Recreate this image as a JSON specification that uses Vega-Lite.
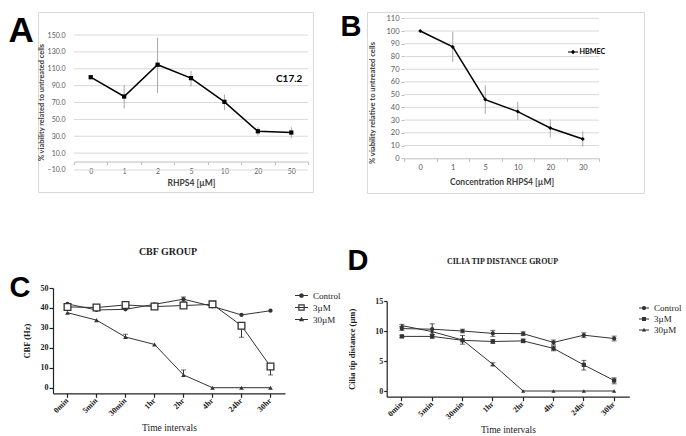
{
"$schema": "https://vega.github.io/schema/vega-lite/v6.json",
"background": "white",
"padding": {"left": 7, "top": 11, "right": 0, "bottom": 0},
"config": {"view": {"stroke": null}, "axis": {"grid": false, "labelOverlap": false}},
"columns": 2,
"spacing": {"row": 95, "column": 54},
"bounds": "flush",
"resolve": {"scale": {"color": "independent", "shape": "independent"}, "legend": {"color": "independent", "shape": "independent"}},
"datasets": {
"A": [
{"conc": "0", "v": 100, "lo": 100, "hi": 100, "series": "C17.2"},
{"conc": "1", "v": 77.1, "lo": 62.9, "hi": 90.6, "series": "C17.2"},
{"conc": "2", "v": 114.8, "lo": 81.1, "hi": 146.8, "series": "C17.2"},
{"conc": "5", "v": 98.9, "lo": 89.0, "hi": 107.6, "series": "C17.2"},
{"conc": "10", "v": 70.8, "lo": 60.9, "hi": 79.5, "series": "C17.2"},
{"conc": "20", "v": 35.9, "lo": 30.8, "hi": 40.7, "series": "C17.2"},
{"conc": "50", "v": 34.4, "lo": 27.6, "hi": 40.7, "series": "C17.2"}
],
"Agrid": [{"g": -10}, {"g": 10}, {"g": 30}, {"g": 50}, {"g": 70}, {"g": 90}, {"g": 110}, {"g": 130}, {"g": 150}],
"B": [
{"conc": "0", "v": 100, "lo": 100, "hi": 100, "series": "HBMEC"},
{"conc": "1", "v": 87.5, "lo": 75.7, "hi": 99.5, "series": "HBMEC"},
{"conc": "5", "v": 46.1, "lo": 35.1, "hi": 57.4, "series": "HBMEC"},
{"conc": "10", "v": 36.7, "lo": 29.9, "hi": 44.3, "series": "HBMEC"},
{"conc": "20", "v": 23.8, "lo": 16.5, "hi": 30.6, "series": "HBMEC"},
{"conc": "30", "v": 15.2, "lo": 9.2, "hi": 21.2, "series": "HBMEC"}
],
"Bgrid": [{"g": 10}, {"g": 20}, {"g": 30}, {"g": 40}, {"g": 50}, {"g": 60}, {"g": 70}, {"g": 80}, {"g": 90}, {"g": 100}, {"g": 110}],
"C": [
{"t": "0min", "s": "Control", "v": 42.0, "lo": 42.0, "hi": 42.0},
{"t": "5min", "s": "Control", "v": 39.0, "lo": 39.0, "hi": 39.0},
{"t": "30min", "s": "Control", "v": 39.3, "lo": 39.3, "hi": 39.3},
{"t": "1hr", "s": "Control", "v": 41.8, "lo": 41.8, "hi": 41.8},
{"t": "2hr", "s": "Control", "v": 44.4, "lo": 43.3, "hi": 45.5},
{"t": "4hr", "s": "Control", "v": 40.8, "lo": 40.8, "hi": 40.8},
{"t": "24hr", "s": "Control", "v": 36.5, "lo": 36.5, "hi": 36.5},
{"t": "30hr", "s": "Control", "v": 38.6, "lo": 38.6, "hi": 38.6},
{"t": "0min", "s": "3µM", "v": 40.5, "lo": 40.5, "hi": 40.5},
{"t": "5min", "s": "3µM", "v": 40.2, "lo": 40.2, "hi": 40.2},
{"t": "30min", "s": "3µM", "v": 41.5, "lo": 41.5, "hi": 41.5},
{"t": "1hr", "s": "3µM", "v": 40.7, "lo": 40.7, "hi": 40.7},
{"t": "2hr", "s": "3µM", "v": 41.2, "lo": 41.2, "hi": 41.2},
{"t": "4hr", "s": "3µM", "v": 41.8, "lo": 41.8, "hi": 41.8},
{"t": "24hr", "s": "3µM", "v": 31.1, "lo": 25.3, "hi": 31.1},
{"t": "30hr", "s": "3µM", "v": 10.6, "lo": 6.4, "hi": 10.6},
{"t": "0min", "s": "30µM", "v": 37.6, "lo": 37.6, "hi": 37.6},
{"t": "5min", "s": "30µM", "v": 33.9, "lo": 33.9, "hi": 33.9},
{"t": "30min", "s": "30µM", "v": 25.4, "lo": 25.4, "hi": 26.8},
{"t": "1hr", "s": "30µM", "v": 21.7, "lo": 21.7, "hi": 21.7},
{"t": "2hr", "s": "30µM", "v": 6.4, "lo": 6.4, "hi": 8.9},
{"t": "4hr", "s": "30µM", "v": 0, "lo": 0, "hi": 0},
{"t": "24hr", "s": "30µM", "v": 0, "lo": 0, "hi": 0},
{"t": "30hr", "s": "30µM", "v": 0, "lo": 0, "hi": 0}
],
"D": [
{"t": "0min", "s": "Control", "v": 10.4, "lo": 10.1, "hi": 10.7},
{"t": "5min", "s": "Control", "v": 10.3, "lo": 9.4, "hi": 11.2},
{"t": "30min", "s": "Control", "v": 10.0, "lo": 9.7, "hi": 10.3},
{"t": "1hr", "s": "Control", "v": 9.6, "lo": 9.1, "hi": 10.1},
{"t": "2hr", "s": "Control", "v": 9.55, "lo": 9.25, "hi": 9.85},
{"t": "4hr", "s": "Control", "v": 8.1, "lo": 7.7, "hi": 8.5},
{"t": "24hr", "s": "Control", "v": 9.3, "lo": 8.9, "hi": 9.7},
{"t": "30hr", "s": "Control", "v": 8.75, "lo": 8.35, "hi": 9.15},
{"t": "0min", "s": "3µM", "v": 9.1, "lo": 8.9, "hi": 9.3},
{"t": "5min", "s": "3µM", "v": 9.1, "lo": 8.8, "hi": 9.4},
{"t": "30min", "s": "3µM", "v": 8.45, "lo": 7.8, "hi": 9.25},
{"t": "1hr", "s": "3µM", "v": 8.25, "lo": 7.95, "hi": 8.55},
{"t": "2hr", "s": "3µM", "v": 8.35, "lo": 8.05, "hi": 8.65},
{"t": "4hr", "s": "3µM", "v": 7.1, "lo": 6.7, "hi": 7.5},
{"t": "24hr", "s": "3µM", "v": 4.35, "lo": 3.5, "hi": 5.1},
{"t": "30hr", "s": "3µM", "v": 1.75, "lo": 1.2, "hi": 2.2},
{"t": "0min", "s": "30µM", "v": 10.9, "lo": 10.7, "hi": 11.1},
{"t": "5min", "s": "30µM", "v": 9.9, "lo": 9.9, "hi": 9.9},
{"t": "30min", "s": "30µM", "v": 8.5, "lo": 8.5, "hi": 8.5},
{"t": "1hr", "s": "30µM", "v": 4.45, "lo": 4.2, "hi": 4.7},
{"t": "2hr", "s": "30µM", "v": 0, "lo": 0, "hi": 0},
{"t": "4hr", "s": "30µM", "v": 0, "lo": 0, "hi": 0},
{"t": "24hr", "s": "30µM", "v": 0, "lo": 0, "hi": 0},
{"t": "30hr", "s": "30µM", "v": 0, "lo": 0, "hi": 0}
]
},
"concat": [
{
"width": 275, "height": 180,
"view": {"stroke": "#d9d9d9"},
"layer": [
{
"layer": [
{
"data": {"name": "Agrid"},
"mark": {"type": "rule", "color": "#d9d9d9", "strokeWidth": 1},
"encoding": {
"x": {"datum": "0", "type": "ordinal", "bandPosition": 0,
"scale": {"type": "band", "domain": ["0", "1", "2", "5", "10", "20", "50"], "range": [36, 270], "paddingInner": 0, "paddingOuter": 0},
"axis": {"title": "RHPS4 [µM]", "orient": "bottom", "offset": -30.5, "labelOverlap": false, "domainColor": "#bfbfbf", "domainWidth": 1, "ticks": true, "tickBand": "extent", "tickSize": 3, "tickColor": "#bfbfbf", "labelAngle": 0, "labelFont": "Lato", "labelFontSize": 7, "labelColor": "#595959", "labelPadding": 2.5, "titleFont": "Lato", "titleFontSize": 8.5, "titleFontWeight": "bold", "titleColor": "#404040", "titlePadding": 4.5}},
"x2": {"datum": "50", "bandPosition": 1},
"y": {"field": "g", "type": "quantitative",
"scale": {"domain": [-36.1, 177.3], "nice": false, "zero": false},
"axis": {"title": "% viability related to untreated cells", "values": [-10, 10, 30, 50, 70, 90, 110, 130, 150], "tickCount": 30, "format": ".1f", "labelOverlap": false, "domain": false, "ticks": false, "grid": false, "offset": -29, "labelPadding": 2, "labelFont": "Lato", "labelFontSize": 7, "labelColor": "#595959", "titleFont": "Lato", "titleFontSize": 7.4, "titleFontWeight": "bold", "titleColor": "#404040", "titlePadding": 2}}
}
},
{
"data": {"name": "A"},
"mark": {"type": "rule", "color": "#a6a6a6", "strokeWidth": 1},
"encoding": {"x": {"field": "conc", "type": "ordinal"}, "y": {"field": "lo", "type": "quantitative"}, "y2": {"field": "hi"}}
},
{
"data": {"name": "A"},
"mark": {"type": "line", "color": "#000000", "strokeWidth": 1.5},
"encoding": {"x": {"field": "conc", "type": "ordinal"}, "y": {"field": "v", "type": "quantitative"}, "order": {"value": null}}
},
{
"data": {"name": "A"},
"mark": {"type": "point", "shape": "square", "filled": true, "size": 18, "opacity": 1},
"encoding": {"x": {"field": "conc", "type": "ordinal"}, "y": {"field": "v", "type": "quantitative"},
"color": {"field": "series", "type": "nominal", "scale": {"range": ["#000000"]},
"legend": {"title": null, "orient": "none", "legendX": 228, "legendY": 62, "symbolSize": 0, "symbolOpacity": 0, "symbolStrokeWidth": 0, "labelFont": "Lato", "labelFontSize": 10, "labelFontWeight": "bold", "labelColor": "#000000", "labelOffset": 0}}}
}
]
},
{
"data": {"name": "A"},
"mark": {"type": "point", "size": 0, "opacity": 0},
"encoding": {
"x": {"field": "conc", "type": "ordinal",
"axis": {"orient": "top", "labels": false, "ticks": false, "domain": false, "grid": false, "title": "A", "titleFont": "Liberation Sans", "titleFontSize": 35, "titleFontWeight": "bold", "titleColor": "#000000", "titleAngle": 0, "titleAlign": "left", "titleBaseline": "alphabetic", "titleX": -30, "titleY": 29}}
}
}
],
"resolve": {"axis": {"x": "independent"}}
},
{
"width": 277, "height": 181,
"view": {"stroke": "#d9d9d9"},
"layer": [
{
"layer": [
{
"data": {"name": "Bgrid"},
"mark": {"type": "rule", "color": "#d9d9d9", "strokeWidth": 1},
"encoding": {
"x": {"datum": "0", "type": "ordinal", "bandPosition": 0,
"scale": {"type": "band", "domain": ["0", "1", "5", "10", "20", "30"], "range": [37, 232], "paddingInner": 0, "paddingOuter": 0},
"axis": {"title": "Concentration RHPS4 [µM]", "orient": "bottom", "offset": -34.7, "labelOverlap": false, "domainColor": "#bfbfbf", "domainWidth": 1, "ticks": true, "tickBand": "extent", "tickSize": 3, "tickColor": "#bfbfbf", "labelAngle": 0, "labelFont": "Lato", "labelFontSize": 7.5, "labelColor": "#595959", "labelPadding": 2.5, "titleFont": "Lato", "titleFontSize": 8.5, "titleFontWeight": "bold", "titleColor": "#404040", "titlePadding": 6.5}},
"x2": {"datum": "30", "bandPosition": 1},
"y": {"field": "g", "type": "quantitative",
"scale": {"domain": [-27.3, 114.95], "nice": false, "zero": false},
"axis": {"title": "% viability relative to untreated cells", "values": [0, 10, 20, 30, 40, 50, 60, 70, 80, 90, 100, 110], "tickCount": 30, "format": "d", "labelOverlap": false, "domain": false, "ticks": true, "tickSize": 3, "tickColor": "#bfbfbf", "grid": false, "offset": -37, "labelPadding": 2, "labelFont": "Lato", "labelFontSize": 7.5, "labelColor": "#595959", "titleFont": "Lato", "titleFontSize": 7.6, "titleFontWeight": "bold", "titleColor": "#404040", "titlePadding": 9}}
}
},
{
"data": {"name": "B"},
"mark": {"type": "rule", "color": "#a6a6a6", "strokeWidth": 1},
"encoding": {"x": {"field": "conc", "type": "ordinal"}, "y": {"field": "lo", "type": "quantitative"}, "y2": {"field": "hi"}}
},
{
"data": {"name": "B"},
"mark": {"type": "line", "color": "#000000", "strokeWidth": 1.5},
"encoding": {"x": {"field": "conc", "type": "ordinal"}, "y": {"field": "v", "type": "quantitative"}, "order": {"value": null}}
},
{
"data": {"name": "B"},
"mark": {"type": "point", "shape": "diamond", "filled": true, "size": 16, "opacity": 1},
"encoding": {"x": {"field": "conc", "type": "ordinal"}, "y": {"field": "v", "type": "quantitative"},
"color": {"field": "series", "type": "nominal", "scale": {"range": ["#000000"]},
"legend": {"title": null, "orient": "none", "legendX": 201, "legendY": 35, "symbolType": "M-1,-0.1H1V0.1H-1Z M0,-0.45L0.45,0L0,0.45L-0.45,0Z", "symbolSize": 100, "symbolStrokeWidth": 0, "symbolFillColor": "#000000", "labelFont": "Lato", "labelFontSize": 7.2, "labelFontWeight": "bold", "labelColor": "#000000", "labelOffset": 1.5}}}
}
]
},
{
"data": {"name": "B"},
"mark": {"type": "point", "size": 0, "opacity": 0},
"encoding": {
"x": {"field": "conc", "type": "ordinal",
"axis": {"orient": "top", "labels": false, "ticks": false, "domain": false, "grid": false, "title": "B", "titleFont": "Liberation Sans", "titleFontSize": 29, "titleFontWeight": "bold", "titleColor": "#000000", "titleAngle": 0, "titleAlign": "left", "titleBaseline": "alphabetic", "titleX": -27, "titleY": 23}}
}
}
],
"resolve": {"axis": {"x": "independent"}}
},
{
"width": 275, "height": 105.3,
"title": {"text": "CBF GROUP", "orient": "top", "anchor": "middle", "frame": "group", "offset": 16.5, "dx": -7.5, "font": "Liberation Serif", "fontSize": 10, "fontWeight": "bold", "color": "#222222"},
"layer": [
{
"layer": [
{
"data": {"name": "C"},
"transform": [{"filter": "datum.hi > datum.lo"}],
"mark": {"type": "rule", "color": "#333333", "strokeWidth": 1},
"encoding": {
"x": {"field": "t", "type": "ordinal",
"scale": {"type": "band", "domain": ["0min", "5min", "30min", "1hr", "2hr", "4hr", "24hr", "30hr"], "range": [15, 247], "paddingInner": 0, "paddingOuter": 0},
"axis": {"title": "Time intervals", "orient": "bottom", "labelOverlap": false, "domainColor": "#222222", "domainWidth": 1.2, "tickColor": "#222222", "tickSize": 4, "tickWidth": 1.2, "labelAngle": -45, "labelAlign": "right", "labelBaseline": "middle", "labelFont": "Liberation Serif", "labelFontSize": 8, "labelFontWeight": "bold", "labelColor": "#222222", "labelPadding": 2, "titleFont": "Liberation Serif", "titleFontSize": 9.5, "titleFontWeight": "normal", "titleColor": "#222222", "titlePadding": 5.5}},
"y": {"field": "lo", "type": "quantitative",
"scale": {"domain": [-2.8, 50], "nice": false, "zero": false},
"axis": {"title": "CBF (Hz)", "values": [0, 10, 20, 30, 40, 50], "tickCount": 30, "format": "d", "labelOverlap": false, "offset": -15, "domainColor": "#222222", "domainWidth": 1.2, "tickColor": "#222222", "tickSize": 4, "tickWidth": 1.2, "labelFont": "Liberation Serif", "labelFontSize": 8, "labelFontWeight": "bold", "labelColor": "#222222", "labelPadding": 1, "titleFont": "Liberation Serif", "titleFontSize": 8.5, "titleFontWeight": "bold", "titleColor": "#222222", "titlePadding": 9}},
"y2": {"field": "hi"}
}
},
{
"data": {"name": "C"},
"transform": [{"filter": "datum.hi > datum.v"}],
"mark": {"type": "tick", "color": "#333333", "size": 5, "thickness": 1, "orient": "horizontal"},
"encoding": {"x": {"field": "t", "type": "ordinal"}, "y": {"field": "hi", "type": "quantitative"}}
},
{
"data": {"name": "C"},
"transform": [{"filter": "datum.lo < datum.v"}],
"mark": {"type": "tick", "color": "#333333", "size": 5, "thickness": 1, "orient": "horizontal"},
"encoding": {"x": {"field": "t", "type": "ordinal"}, "y": {"field": "lo", "type": "quantitative"}}
},
{
"data": {"name": "C"},
"mark": {"type": "line", "color": "#333333", "strokeWidth": 1},
"encoding": {"x": {"field": "t", "type": "ordinal"}, "y": {"field": "v", "type": "quantitative"}, "detail": {"field": "s", "type": "nominal"}, "order": {"value": null}}
},
{
"data": {"name": "C"},
"transform": [{"filter": "datum.s == 'Control'"}],
"mark": {"type": "point", "shape": "circle", "filled": true, "size": 18, "color": "#333333", "opacity": 1},
"encoding": {"x": {"field": "t", "type": "ordinal"}, "y": {"field": "v", "type": "quantitative"}}
},
{
"data": {"name": "C"},
"transform": [{"filter": "datum.s == '3µM'"}],
"mark": {"type": "point", "shape": "square", "filled": false, "fill": "#ffffff", "stroke": "#333333", "strokeWidth": 1.3, "size": 45, "opacity": 1},
"encoding": {"x": {"field": "t", "type": "ordinal"}, "y": {"field": "v", "type": "quantitative"}}
},
{
"data": {"name": "C"},
"transform": [{"filter": "datum.s == '30µM'"}],
"mark": {"type": "point", "shape": "triangle-up", "filled": true, "size": 22, "color": "#333333", "opacity": 1},
"encoding": {"x": {"field": "t", "type": "ordinal"}, "y": {"field": "v", "type": "quantitative"}}
}
]
},
{
"data": {"name": "C"},
"mark": {"type": "point", "filled": true, "size": 0, "color": "#333333"},
"encoding": {
"x": {"field": "t", "type": "ordinal",
"axis": {"orient": "top", "labels": false, "ticks": false, "domain": false, "grid": false, "title": "C", "titleFont": "Liberation Sans", "titleFontSize": 29, "titleFontWeight": "bold", "titleColor": "#000000", "titleAngle": 0, "titleAlign": "left", "titleBaseline": "alphabetic", "titleX": -29, "titleY": 8}},
"shape": {"field": "s", "type": "nominal",
"scale": {"domain": ["Control", "3µM", "30µM"], "range": ["M-1,-0.08H1V0.08H-1Z M0.36,0A0.36,0.36,0,1,1,-0.36,0A0.36,0.36,0,1,1,0.36,0Z", "M-1,-0.08H1V0.08H-1Z M-0.5,-0.5H0.5V0.5H-0.5Z M-0.32,-0.32V0.32H0.32V-0.32Z", "M-1,-0.08H1V0.08H-1Z M0,-0.42L0.4,0.28L-0.4,0.28Z"]},
"legend": {"title": null, "orient": "none", "legendX": 257, "legendY": 1, "symbolSize": 169, "symbolFillColor": "#333333", "symbolStrokeColor": "#333333", "symbolStrokeWidth": 0, "symbolOpacity": 1, "labelFont": "Liberation Serif", "labelFontSize": 9, "labelColor": "#222222", "labelOffset": 5, "rowPadding": 0}}
}
}
],
"resolve": {"axis": {"x": "independent"}}
},
{
"width": 277, "height": 108.7,
"title": {"text": "CILIA TIP DISTANCE GROUP", "orient": "top", "anchor": "middle", "frame": "group", "offset": 0, "dx": -3, "dy": 20, "font": "Liberation Serif", "fontSize": 8, "fontWeight": "bold", "color": "#222222"},
"layer": [
{
"layer": [
{
"data": {"name": "D"},
"transform": [{"filter": "datum.hi > datum.lo"}],
"mark": {"type": "rule", "color": "#333333", "strokeWidth": 1},
"encoding": {
"x": {"field": "t", "type": "ordinal",
"scale": {"type": "band", "domain": ["0min", "5min", "30min", "1hr", "2hr", "4hr", "24hr", "30hr"], "range": [19.7, 262.3], "paddingInner": 0, "paddingOuter": 0},
"axis": {"title": "Time intervals", "orient": "bottom", "labelOverlap": false, "domainColor": "#222222", "domainWidth": 1.2, "tickColor": "#222222", "tickSize": 4, "tickWidth": 1.2, "labelAngle": -45, "labelAlign": "right", "labelBaseline": "middle", "labelFont": "Liberation Serif", "labelFontSize": 8, "labelFontWeight": "bold", "labelColor": "#222222", "labelPadding": 2, "titleFont": "Liberation Serif", "titleFontSize": 9.5, "titleFontWeight": "normal", "titleColor": "#222222", "titlePadding": 4}},
"y": {"field": "lo", "type": "quantitative",
"scale": {"domain": [-0.95, 15], "nice": false, "zero": false, "range": [108.7, 13]},
"axis": {"title": "Cilia tip distance (µm)", "values": [0, 5, 10, 15], "tickCount": 30, "format": "d", "labelOverlap": false, "offset": -19.7, "domainColor": "#222222", "domainWidth": 1.2, "tickColor": "#222222", "tickSize": 3, "tickWidth": 1.2, "labelFont": "Liberation Serif", "labelFontSize": 8, "labelFontWeight": "bold", "labelColor": "#222222", "labelPadding": 1, "titleFont": "Liberation Serif", "titleFontSize": 8.5, "titleFontWeight": "bold", "titleColor": "#222222", "titlePadding": 18}},
"y2": {"field": "hi"}
}
},
{
"data": {"name": "D"},
"transform": [{"filter": "datum.hi > datum.v"}],
"mark": {"type": "tick", "color": "#333333", "size": 5, "thickness": 1, "orient": "horizontal"},
"encoding": {"x": {"field": "t", "type": "ordinal"}, "y": {"field": "hi", "type": "quantitative"}}
},
{
"data": {"name": "D"},
"transform": [{"filter": "datum.lo < datum.v"}],
"mark": {"type": "tick", "color": "#333333", "size": 5, "thickness": 1, "orient": "horizontal"},
"encoding": {"x": {"field": "t", "type": "ordinal"}, "y": {"field": "lo", "type": "quantitative"}}
},
{
"data": {"name": "D"},
"mark": {"type": "line", "color": "#333333", "strokeWidth": 1},
"encoding": {"x": {"field": "t", "type": "ordinal"}, "y": {"field": "v", "type": "quantitative"}, "detail": {"field": "s", "type": "nominal"}, "order": {"value": null}}
},
{
"data": {"name": "D"},
"transform": [{"filter": "datum.s == 'Control'"}],
"mark": {"type": "point", "shape": "circle", "filled": true, "size": 18, "color": "#333333", "opacity": 1},
"encoding": {"x": {"field": "t", "type": "ordinal"}, "y": {"field": "v", "type": "quantitative"}}
},
{
"data": {"name": "D"},
"transform": [{"filter": "datum.s == '3µM'"}],
"mark": {"type": "point", "shape": "square", "filled": true, "size": 18, "color": "#333333", "opacity": 1},
"encoding": {"x": {"field": "t", "type": "ordinal"}, "y": {"field": "v", "type": "quantitative"}}
},
{
"data": {"name": "D"},
"transform": [{"filter": "datum.s == '30µM'"}],
"mark": {"type": "point", "shape": "triangle-up", "filled": true, "size": 18, "color": "#333333", "opacity": 1},
"encoding": {"x": {"field": "t", "type": "ordinal"}, "y": {"field": "v", "type": "quantitative"}}
}
]
},
{
"data": {"name": "D"},
"mark": {"type": "point", "filled": true, "size": 0, "color": "#333333"},
"encoding": {
"x": {"field": "t", "type": "ordinal",
"axis": {"orient": "top", "labels": false, "ticks": false, "domain": false, "grid": false, "title": "D", "titleFont": "Liberation Sans", "titleFontSize": 29, "titleFontWeight": "bold", "titleColor": "#000000", "titleAngle": 0, "titleAlign": "left", "titleBaseline": "alphabetic", "titleX": -20, "titleY": -19}},
"shape": {"field": "s", "type": "nominal",
"scale": {"domain": ["Control", "3µM", "30µM"], "range": ["M-1,-0.1H1V0.1H-1Z M0.42,0A0.42,0.42,0,1,1,-0.42,0A0.42,0.42,0,1,1,0.42,0Z", "M-1,-0.1H1V0.1H-1Z M-0.4,-0.4H0.4V0.4H-0.4Z", "M-1,-0.1H1V0.1H-1Z M0,-0.45L0.42,0.3L-0.42,0.3Z"]},
"legend": {"title": null, "orient": "none", "legendX": 272, "legendY": 15, "symbolSize": 100, "symbolFillColor": "#333333", "symbolStrokeColor": "#333333", "symbolStrokeWidth": 0, "symbolOpacity": 1, "labelFont": "Liberation Serif", "labelFontSize": 9, "labelColor": "#222222", "labelOffset": 5, "rowPadding": 1}}
}
}
],
"resolve": {"axis": {"x": "independent"}}
}
]
}
